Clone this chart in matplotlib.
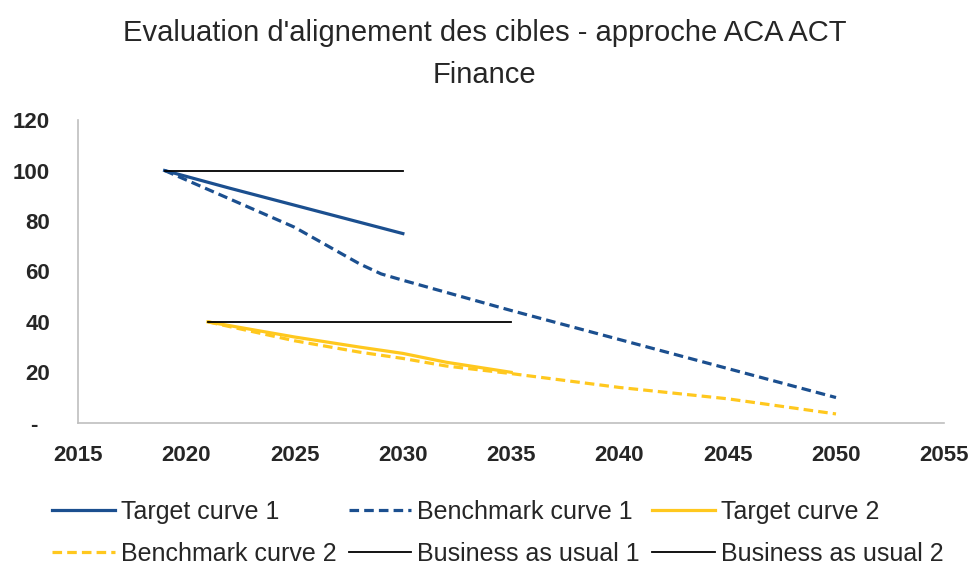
import matplotlib.pyplot as plt

plt.rcParams['font.family'] = ['Liberation Sans', 'DejaVu Sans']

# data
target1_years = [2019, 2022, 2030]
target1_vals = [100, 93, 75]

bench1_years = [2019, 2025, 2028, 2029, 2030, 2035, 2040, 2045, 2050]
bench1_vals = [100, 77.5, 63, 59, 56.5, 44.5, 33, 21.5, 10]

target2_years = [2021, 2025, 2028, 2030, 2032, 2035]
target2_vals = [40, 34, 30, 27.5, 24, 20]

bench2_years = [2021, 2025, 2028, 2030, 2032, 2035, 2040, 2045, 2050]
bench2_vals = [40, 32.5, 28, 25.5, 22.5, 19.5, 14, 9.5, 3.5]

bau1_years = [2019, 2030]
bau1_vals = [100, 100]
bau2_years = [2021, 2035]
bau2_vals = [40, 40]

x_ticks = [2015, 2020, 2025, 2030, 2035, 2040, 2045, 2050, 2055]
y_ticks = [0, 20, 40, 60, 80, 100, 120]
y_labels = ['-  ', '20', '40', '60', '80', '100', '120']

blue = '#1B4F8F'
gold = '#FFC81E'

fig = plt.figure(figsize=(9.69, 5.69), dpi=100)
ax = fig.add_axes([0.0805, 0.257, 0.894, 0.532])

l1, = ax.plot(target1_years, target1_vals, c=blue, lw=2.3, label='Target curve 1')
l2, = ax.plot(bench1_years, bench1_vals, c=blue, lw=2.3, ls=(0, (3, 1.6)), label='Benchmark curve 1')
l3, = ax.plot(target2_years, target2_vals, c=gold, lw=2.3, label='Target curve 2')
l4, = ax.plot(bench2_years, bench2_vals, c=gold, lw=2.3, ls=(0, (3, 1.6)), label='Benchmark curve 2')
l5, = ax.plot(bau1_years, bau1_vals, c='black', lw=1.3, label='Business as usual 1')
l6, = ax.plot(bau2_years, bau2_vals, c='black', lw=1.3, label='Business as usual 2')

ax.set_xlim(2015, 2055)
ax.set_ylim(0, 120)
ax.set_xticks(x_ticks)
ax.set_yticks(y_ticks)
ax.set_yticklabels(y_labels)
ax.tick_params(axis='both', length=0, labelsize=16, labelcolor='#262626')
ax.tick_params(axis='x', pad=16)
ax.tick_params(axis='y', pad=20)
for lab in ax.get_xticklabels() + ax.get_yticklabels():
    lab.set_fontweight('bold')

for side in ['top', 'right']:
    ax.spines[side].set_visible(False)
for side in ['left', 'bottom']:
    ax.spines[side].set_color('#BFBFBF')
    ax.spines[side].set_linewidth(1.2)

fig.suptitle("Evaluation d'alignement des cibles - approche ACA ACT\nFinance",
             fontsize=21, color='#262626', y=0.967, linespacing=1.65)

# legend fills column by column, so reorder to get the row layout of the reference
handles = [l1, l4, l2, l5, l3, l6]
fig.legend(handles, [h.get_label() for h in handles],
           loc='upper left', bbox_to_anchor=(0.0537, 0.121), ncol=3, frameon=False,
           fontsize=18, handlelength=2.5, handletextpad=0.24, columnspacing=0.5,
           labelspacing=0.7, borderaxespad=0, borderpad=0, labelcolor='#262626')

fig.savefig('out.png', dpi=100)
